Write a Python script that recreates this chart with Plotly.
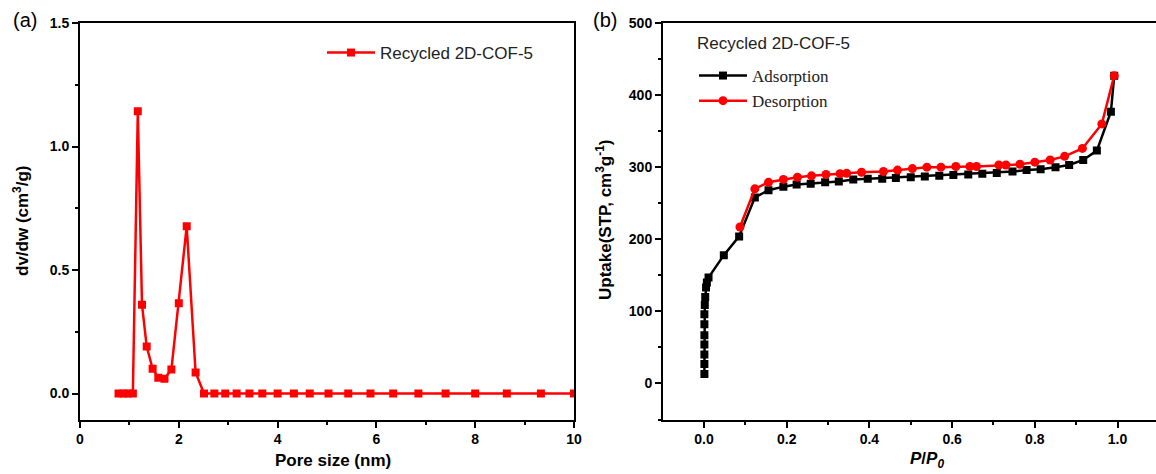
import plotly.graph_objects as go

# Panel (a): pore size distribution
pore_size = [0.78, 0.88, 0.97, 1.07, 1.17, 1.255, 1.35, 1.47, 1.585, 1.71, 1.85, 2.0, 2.16, 2.34,
             2.51, 2.72, 2.94, 3.17, 3.43, 3.69, 4.0, 4.33, 4.65, 5.03, 5.43, 5.88, 6.34, 6.85,
             7.40, 8.0, 8.64, 9.33, 10.0]
dvdw = [0, 0, 0, 0, 1.143, 0.36, 0.19, 0.10, 0.064, 0.06, 0.097, 0.366, 0.677, 0.085,
        0, 0, 0, 0, 0, 0, 0, 0, 0, 0, 0, 0, 0, 0, 0, 0, 0, 0, 0]

# Panel (b): isotherm
ads_p = [0.001, 0.001, 0.001, 0.001, 0.001, 0.001, 0.001, 0.002, 0.003, 0.005, 0.007, 0.011,
         0.048, 0.085, 0.123, 0.156, 0.192, 0.224, 0.258, 0.293, 0.326, 0.361, 0.396, 0.431,
         0.464, 0.5, 0.534, 0.569, 0.603, 0.639, 0.673, 0.708, 0.746, 0.78, 0.814, 0.85,
         0.883, 0.917, 0.95, 0.984, 0.992]
ads_v = [13, 27, 40, 54, 67, 82, 96, 109, 120, 133, 140, 147,
         178, 204, 258, 268, 273, 276, 277, 279, 280, 283, 284, 284,
         285, 286, 287, 288, 289, 290, 291, 292, 294, 296, 297, 300,
         303, 310, 323, 377, 427]
des_p = [0.087, 0.123, 0.156, 0.192, 0.226, 0.26, 0.295, 0.329, 0.345, 0.381, 0.434, 0.468,
         0.504, 0.539, 0.573, 0.609, 0.643, 0.659, 0.713, 0.73, 0.764, 0.8, 0.837, 0.872,
         0.915, 0.962, 0.992]
des_v = [217, 270, 279, 283, 286, 288, 290, 291, 291.5, 293, 294, 296,
         298, 300, 300, 301, 301, 301, 303, 303, 304, 307, 310, 315,
         326, 360, 427]

# Tick labels
xa_ticks = [0, 2, 4, 6, 8, 10]
ya_ticks = [0.0, 0.5, 1.0, 1.5]
xb_ticks = [0.0, 0.2, 0.4, 0.6, 0.8, 1.0]
yb_ticks = [0, 100, 200, 300, 400, 500]

FONT = "Arial, Liberation Sans, sans-serif"
SERIF = "Times New Roman, Liberation Serif, serif"

fig = go.Figure()
fig.add_trace(go.Scatter(x=pore_size, y=dvdw, mode="lines+markers", name="Recycled 2D-COF-5",
                         line=dict(color="#ff0000", width=2.5),
                         marker=dict(symbol="square", size=8, color="#ff0000"),
                         xaxis="x", yaxis="y", legend="legend"))
fig.add_trace(go.Scatter(x=ads_p, y=ads_v, mode="lines+markers", name="Adsorption",
                         line=dict(color="black", width=2.5),
                         marker=dict(symbol="square", size=8, color="black"),
                         xaxis="x2", yaxis="y2", legend="legend2"))
fig.add_trace(go.Scatter(x=des_p, y=des_v, mode="lines+markers", name="Desorption",
                         line=dict(color="#ff0000", width=2.5),
                         marker=dict(symbol="circle", size=9, color="#ff0000"),
                         xaxis="x2", yaxis="y2", legend="legend2"))

W, H = 1156, 474
def px(x): return x / W
def py(y): return 1 - y / H

def bold(vals, fmt):
    return [f"<b>{fmt.format(v)}</b>" for v in vals]

axis_common = dict(showline=True, linecolor="black", linewidth=2, ticks="outside",
                   ticklen=6, tickwidth=2, tickcolor="black", showgrid=False, zeroline=False,
                   tickfont=dict(family=FONT, size=14, color="black"),
                   automargin=False, tickmode="array")

fig.update_layout(
    width=W, height=H,
    margin=dict(l=0, r=0, t=0, b=0),
    plot_bgcolor="white", paper_bgcolor="white",
    xaxis=dict(domain=[px(80), px(574)], range=[0, 10], mirror=True,
               tickvals=xa_ticks, ticktext=bold(xa_ticks, "{:d}"),
               minor=dict(dtick=1, ticks="outside", ticklen=3, tickwidth=2, tickcolor="black"),
               anchor="y", **axis_common),
    yaxis=dict(domain=[py(419.5), py(23)], range=[-0.105, 1.5], mirror=True,
               tickvals=ya_ticks, ticktext=bold(ya_ticks, "{:.1f}"),
               minor=dict(dtick=0.25, tick0=0, ticks="outside", ticklen=3, tickwidth=2, tickcolor="black"),
               anchor="x", **axis_common),
    xaxis2=dict(domain=[px(663), 1.0], range=[-0.0991, 1.093], mirror=True,
                tickvals=xb_ticks, ticktext=bold(xb_ticks, "{:.1f}"),
                minor=dict(dtick=0.1, tick0=0, ticks="outside", ticklen=3, tickwidth=2, tickcolor="black"),
                anchor="y2", **axis_common),
    yaxis2=dict(domain=[py(419.5), py(23)], range=[-50, 500],
                tickvals=yb_ticks, ticktext=bold(yb_ticks, "{:d}"),
                minor=dict(dtick=50, tick0=0, ticks="outside", ticklen=3, tickwidth=2, tickcolor="black"),
                anchor="x2", **axis_common),
    legend=dict(x=px(322), y=py(35), xanchor="left", yanchor="top", itemwidth=48,
                bgcolor="rgba(0,0,0,0)", font=dict(family=FONT, size=17, color="#222")),
    legend2=dict(x=px(694), y=py(58), xanchor="left", yanchor="top", itemwidth=48,
                 bgcolor="rgba(0,0,0,0)", tracegroupgap=0,
                 font=dict(family=SERIF, size=17, color="#222")),
    showlegend=True,
)

annots = [
    dict(text="(a)", x=px(25), y=py(20), font=dict(family=FONT, size=20, color="black")),
    dict(text="(b)", x=px(605), y=py(20), font=dict(family=FONT, size=20, color="black")),
    dict(text="<b>Pore size (nm)</b>", x=px(333), y=py(460), font=dict(family=FONT, size=17, color="black")),
    dict(text="<b>dv/dw (cm<sup>3</sup>/g)</b>", x=px(21), y=py(221), textangle=-90,
         font=dict(family=FONT, size=17, color="black")),
    dict(text="<b>Uptake(STP, cm<sup>3</sup>g<sup>-1</sup>)</b>", x=px(604), y=py(220), textangle=-90,
         font=dict(family=FONT, size=17, color="black")),
    dict(text="<b><i>P</i>/<i>P</i><sub><i>0</i></sub></b>", x=px(927), y=py(460),
         font=dict(family=FONT, size=17, color="black")),
]
for a in annots:
    fig.add_annotation(xref="paper", yref="paper", showarrow=False, xanchor="center", yanchor="middle", **a)
fig.add_annotation(xref="paper", yref="paper", showarrow=False, xanchor="left", yanchor="middle",
                   text="Recycled 2D-COF-5", x=px(695), y=py(44),
                   font=dict(family=FONT, size=17, color="#222"))

fig.write_html("out.html", config={"displayModeBar": False},
               post_script="document.body.style.margin='0';document.body.style.overflow='hidden';")
